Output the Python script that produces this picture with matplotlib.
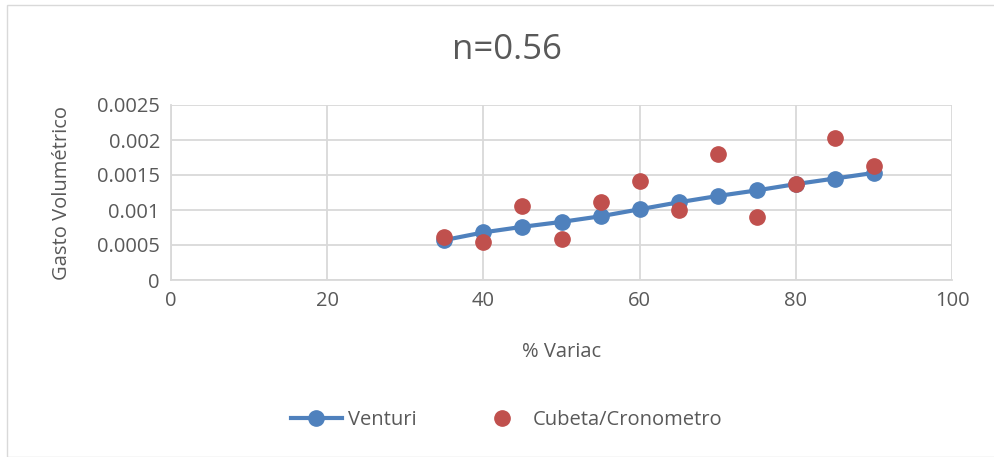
import numpy as np
import matplotlib.pyplot as plt
from matplotlib.patches import Rectangle

plt.rcParams['font.family'] = ['Open Sans', 'DejaVu Sans']

variac = [35, 40, 45, 50, 55, 60, 65, 70, 75, 80, 85, 90]
venturi = [0.00057, 0.00068, 0.00076, 0.00083, 0.00091, 0.00101,
           0.00111, 0.00120, 0.00128, 0.00137, 0.00145, 0.00153]
cubeta = [0.00061, 0.00054, 0.00106, 0.00059, 0.00111, 0.00141,
          0.00100, 0.00180, 0.00090, 0.00137, 0.00203, 0.00163]

txt = '#595959'
grid = '#d9d9d9'

fig = plt.figure(figsize=(9.94, 4.57), dpi=100)
fig.patches.append(Rectangle((7/994, 0), 1, 1 - 5/457, transform=fig.transFigure,
                             fill=False, edgecolor=grid, linewidth=1))
ax = fig.add_axes([171/994, 1 - 280/457, (952-171)/994, (280-105)/457])

ax.plot(variac, venturi, '-o', color='#4f81bd', lw=3, ms=11, label='Venturi', zorder=3)
ax.plot(variac, cubeta, 'o', color='#c0504d', ms=11, label='Cubeta/Cronometro', zorder=4)

ax.set_xlim(0, 100)
ax.set_ylim(0, 0.0025)
ax.set_xticks(np.arange(0, 101, 20))
ax.set_yticks([0, 0.0005, 0.001, 0.0015, 0.002, 0.0025])
ax.set_yticklabels(['0', '0.0005', '0.001', '0.0015', '0.002', '0.0025'])
ax.grid(True, color=grid, lw=1.3)
ax.set_axisbelow(True)
for s in ['top', 'right']:
    ax.spines[s].set_visible(False)
for s in ['left', 'bottom']:
    ax.spines[s].set_color(grid)
    ax.spines[s].set_linewidth(1.3)
ax.tick_params(length=0, labelsize=14.5, colors=txt, pad=8)

fig.text(507/994, 1 - 50/457, 'n=0.56', fontsize=25, color=txt, ha='center', va='center')
ax.set_xlabel('% Variac', fontsize=14.5, color=txt, labelpad=22)
ax.set_ylabel('Gasto Volumétrico', fontsize=14.5, color=txt, labelpad=18)

fig.legend(loc='center', bbox_to_anchor=(507/994, 1 - 420/457), ncol=2, frameon=False,
           fontsize=14.5, labelcolor=txt, columnspacing=3, handlelength=2.5, handletextpad=0.3)

fig.savefig('out.png', dpi=100)
